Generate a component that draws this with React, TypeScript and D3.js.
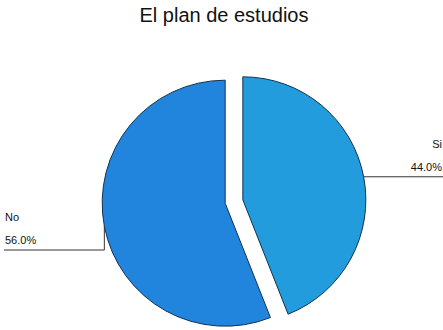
import React from "react";
import * as d3 from "d3";

const title = "El plan de estudios";
const categories = ["Si", "No"];
const values = [44.0, 56.0];
const colors = ["#229cdd", "#2185de"];

const W = 443;
const H = 330;

export default function App() {
  const cx = 234;
  const cy = 201.5;
  const r = 123;
  const explode = 9;

  const pie = d3
    .pie<number>()
    .sort(null)
    .value((d) => d)
    .startAngle(0)
    .endAngle(2 * Math.PI);
  const arcs = pie(values);
  const arcGen = d3.arc<d3.PieArcDatum<number>>().innerRadius(0).outerRadius(r);
  const total = d3.sum(values);

  return (
    <svg
      width={W}
      height={H}
      style={{ position: "absolute", left: 0, top: 0, background: "#fff" }}
      fontFamily="'Liberation Sans', Arial, sans-serif"
    >
      <text x={224} y={22} textAnchor="middle" fontSize={20} fill="#111">
        {title}
      </text>
      {arcs.map((a, i) => {
        const mid = (a.startAngle + a.endAngle) / 2;
        const dx = Math.sin(mid) * explode;
        const dy = -Math.cos(mid) * explode;
        const ox = cx + dx;
        const oy = cy + dy;
        const px = ox + Math.sin(mid) * r;
        const py = oy - Math.cos(mid) * r;
        const right = Math.sin(mid) > 0;
        const pct = ((values[i] / total) * 100).toFixed(1) + "%";
        let line: string;
        let tx: number;
        let ty: number;
        if (right) {
          line = `M${px},${py}H${W}`;
          tx = 442;
          ty = py;
        } else {
          const ly = 250;
          line = `M${px},${py}V${ly}H4`;
          tx = 5;
          ty = ly;
        }
        return (
          <g key={categories[i]}>
            <path
              d={arcGen(a) || ""}
              transform={`translate(${ox},${oy})`}
              fill={colors[i]}
              stroke="#12324f"
              strokeWidth={1}
            />
            <path d={line} fill="none" stroke="#333" strokeWidth={1} />
            <text
              x={tx}
              y={ty - 29}
              textAnchor={right ? "end" : "start"}
              fontSize={11}
              fill="#111"
            >
              {categories[i]}
            </text>
            <text
              x={tx}
              y={ty - 6}
              textAnchor={right ? "end" : "start"}
              fontSize={11}
              fill="#111"
            >
              {pct}
            </text>
          </g>
        );
      })}
    </svg>
  );
}
